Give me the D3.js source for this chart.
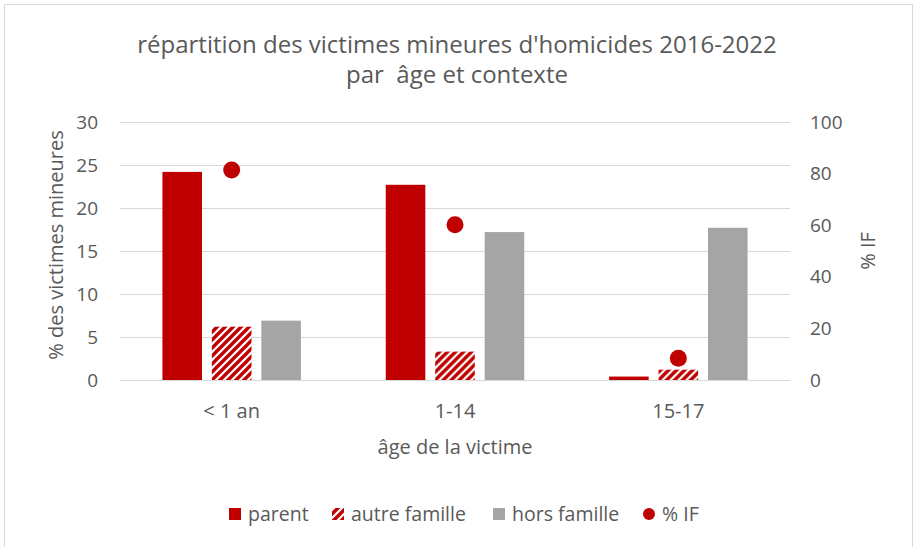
<!DOCTYPE html>
<html>
<head>
<meta charset="utf-8">
<script src="https://d3js.org/d3.v7.min.js"></script>
<style>
body{ margin:0; background:#fff; }
svg{ display:block; font-family:"Open Sans", "Liberation Sans", sans-serif; }
</style>
</head>
<body>
<script>
// data
var categories = ["< 1 an", "1-14", "15-17"];
var seriesNames = ["parent", "autre famille", "hors famille"];
var parentVals = [24.2, 22.7, 0.4];
var autreVals = [6.2, 3.3, 1.2];
var horsVals = [6.9, 17.2, 17.7];
var ifVals = [81.4, 60.2, 8.4];
var leftTicks = [0, 5, 10, 15, 20, 25, 30];
var rightTicks = [0, 20, 40, 60, 80, 100];

var W = 914, H = 547;
var red = "#c00000", grey = "#a5a5a5", txt = "#595959";

var svg = d3.select("body").append("svg").attr("width", W).attr("height", H);

var defs = svg.append("defs");
var pat = defs.append("pattern")
  .attr("id", "hatch")
  .attr("patternUnits", "userSpaceOnUse")
  .attr("width", 8).attr("height", 8);
pat.append("rect").attr("width", 8).attr("height", 8).attr("fill", "#fff");
pat.append("path")
  .attr("d", "M-2,2 L2,-2 M0,8 L8,0 M6,10 L10,6")
  .attr("stroke", red).attr("stroke-width", 3.4);

// outer frame
svg.append("rect").attr("x", 4.5).attr("y", 4.5).attr("width", 908).attr("height", 548)
  .attr("fill", "#fff").attr("stroke", "#d9d9d9");

var x0 = d3.scaleBand().domain(categories).range([120, 790]);
var x1 = d3.scaleBand().domain(seriesNames).range([x0.bandwidth() * 0.19, x0.bandwidth() * 0.81]).paddingInner(0.2);
var yL = d3.scaleLinear().domain([0, 30]).range([380, 122]);
var yR = d3.scaleLinear().domain([0, 100]).range([380, 122]);

// gridlines
svg.append("g").selectAll("line").data(leftTicks).join("line")
  .attr("x1", 120).attr("x2", 790)
  .attr("y1", d => Math.round(yL(d)) + 0.5).attr("y2", d => Math.round(yL(d)) + 0.5)
  .attr("stroke", "#d9d9d9").attr("stroke-width", 1);

// left axis
var axL = svg.append("g").attr("transform", "translate(120,0)")
  .call(d3.axisLeft(yL).tickValues(leftTicks).tickSize(0).tickPadding(22));
axL.select(".domain").remove();
axL.selectAll("text").attr("fill", txt).style("font-size", "19px").style("font-family", "Open Sans");

// right axis
var axR = svg.append("g").attr("transform", "translate(790,0)")
  .call(d3.axisRight(yR).tickValues(rightTicks).tickSize(0).tickPadding(20));
axR.select(".domain").remove();
axR.selectAll("text").attr("fill", txt).style("font-size", "19px").style("font-family", "Open Sans");

// bars
var rows = categories.map((c, i) => ({cat: c, vals: [parentVals[i], autreVals[i], horsVals[i]], pif: ifVals[i]}));
var fills = [red, "url(#hatch)", grey];

var g = svg.append("g").selectAll("g").data(rows).join("g")
  .attr("transform", d => "translate(" + x0(d.cat) + ",0)");

g.selectAll("rect").data(d => d.vals.map((v, j) => ({name: seriesNames[j], v: v, j: j}))).join("rect")
  .attr("x", d => x1(d.name))
  .attr("y", d => yL(d.v))
  .attr("width", x1.bandwidth())
  .attr("height", d => yL(0) - yL(d.v))
  .attr("fill", d => fills[d.j]);

g.append("circle")
  .attr("cx", x1("autre famille") + x1.bandwidth() / 2)
  .attr("cy", d => yR(d.pif))
  .attr("r", 8.5)
  .attr("fill", red);

// category labels
svg.append("g").selectAll("text").data(categories).join("text")
  .attr("x", d => x0(d) + x0.bandwidth() / 2)
  .attr("y", 418)
  .attr("text-anchor", "middle")
  .attr("fill", txt).style("font-size", "20px")
  .text(d => d);

// titles
var title = svg.append("text").attr("x", 457).attr("text-anchor", "middle").attr("fill", txt).style("font-size", "24px");
title.append("tspan").attr("x", 457).attr("y", 53).text("répartition des victimes mineures d'homicides 2016-2022");
title.append("tspan").attr("x", 457).attr("y", 83).text("par  âge et contexte");
title.attr("xml:space", "preserve");

svg.append("text").attr("x", 455).attr("y", 454).attr("text-anchor", "middle")
  .attr("fill", txt).style("font-size", "20px").text("âge de la victime");

svg.append("text").attr("transform", "translate(63,245) rotate(-90)").attr("text-anchor", "middle")
  .attr("fill", txt).style("font-size", "20px").text("% des victimes mineures");

svg.append("text").attr("transform", "translate(875,251) rotate(-90)").attr("text-anchor", "middle")
  .attr("fill", txt).style("font-size", "20px").text("% IF");

// legend
var legendItems = [
  {name: "parent", x: 229, kind: "rect", fill: red},
  {name: "autre famille", x: 332, kind: "rect", fill: "url(#hatch)"},
  {name: "hors famille", x: 493, kind: "rect", fill: grey},
  {name: "% IF", x: 643, kind: "dot", fill: red}
];
var lg = svg.append("g").selectAll("g").data(legendItems).join("g")
  .attr("transform", d => "translate(" + d.x + ",514)");
lg.filter(d => d.kind === "rect").append("rect")
  .attr("x", 0).attr("y", -6).attr("width", 12).attr("height", 12).attr("fill", d => d.fill);
lg.filter(d => d.kind === "dot").append("circle")
  .attr("cx", 6).attr("cy", 0).attr("r", 6).attr("fill", d => d.fill);
lg.append("text").attr("x", 19).attr("y", 7).attr("fill", txt).style("font-size", "19.5px").text(d => d.name);
</script>
</body>
</html>
